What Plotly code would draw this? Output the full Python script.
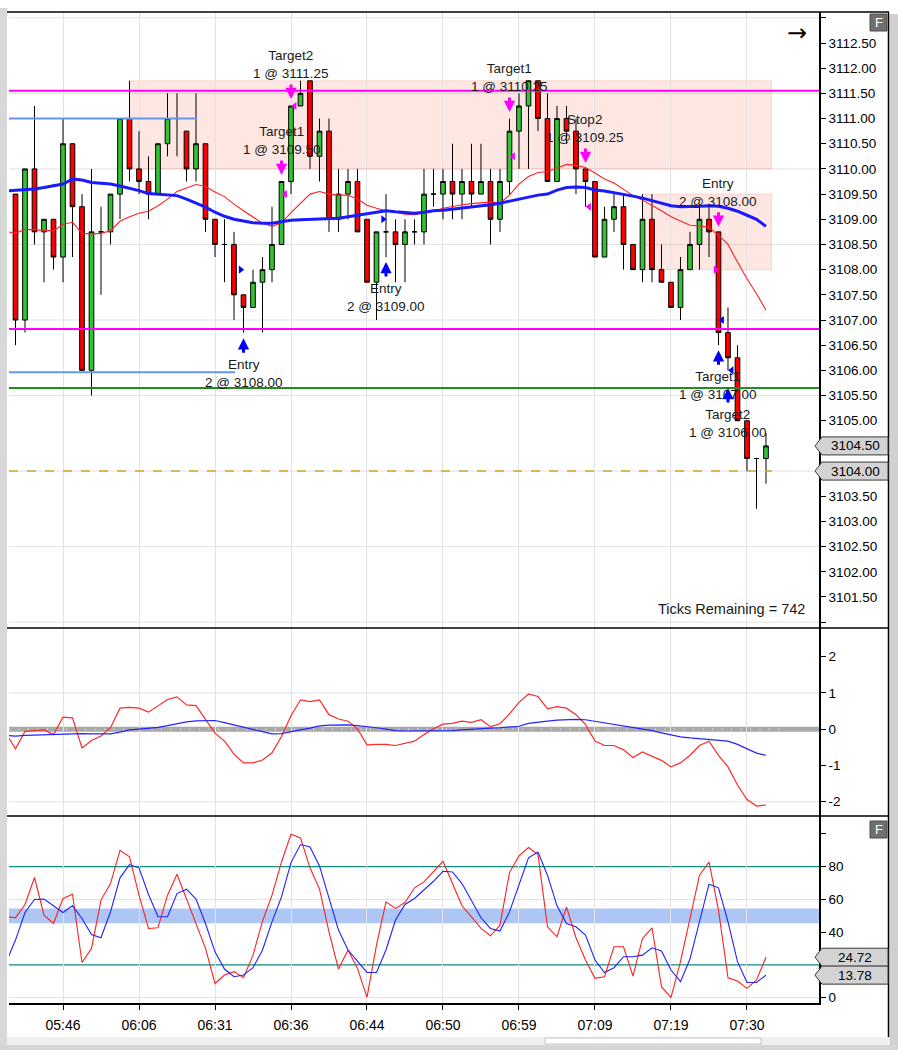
import plotly.graph_objects as go

# ---- tick chart data: 80 visible bars (index 0 = first bar on screen)
bars = list(range(80))
ind_x = list(range(-1, 80))  # indicator lines start one bar left of the first candle

opens = [3109.50, 3107.00, 3110.00, 3108.75, 3109.00, 3108.25, 3110.50, 3109.25, 3106.00, 3108.75,
         3108.75, 3109.50, 3111.00, 3110.00, 3109.75, 3109.50, 3110.50, 3111.00, 3110.75, 3110.00,
         3110.50, 3109.00, 3108.50, 3108.50, 3107.50, 3107.25, 3107.75, 3108.00, 3108.50, 3109.75,
         3111.25, 3111.75, 3110.25, 3110.75, 3109.00, 3109.50, 3109.75, 3109.00, 3107.75, 3108.75,
         3108.75, 3108.50, 3108.75, 3108.75, 3109.50, 3109.50, 3109.75, 3109.50, 3109.75, 3109.50,
         3109.75, 3109.00, 3109.75, 3110.75, 3111.25, 3111.75, 3111.00, 3109.75, 3111.00, 3110.75,
         3110.00, 3109.75, 3108.25, 3109.00, 3109.25, 3108.50, 3108.00, 3109.00, 3108.00, 3107.75,
         3107.25, 3108.00, 3108.50, 3109.00, 3108.75, 3106.75, 3106.25, 3105.00, 3104.25, 3104.25]
highs = [3109.50, 3110.00, 3111.25, 3109.00, 3109.00, 3111.00, 3110.50, 3109.50, 3110.00, 3109.25,
         3109.50, 3111.00, 3111.75, 3110.75, 3110.25, 3110.50, 3111.50, 3111.50, 3110.75, 3111.50,
         3110.50, 3109.00, 3109.00, 3108.75, 3107.50, 3108.00, 3108.25, 3109.25, 3109.75, 3111.25,
         3111.75, 3111.75, 3111.00, 3111.00, 3110.00, 3110.00, 3110.00, 3109.00, 3108.75, 3109.50,
         3109.00, 3109.00, 3109.00, 3110.00, 3110.00, 3110.00, 3110.50, 3110.00, 3110.50, 3110.50,
         3110.00, 3110.00, 3111.00, 3111.50, 3111.75, 3111.75, 3111.50, 3111.25, 3111.25, 3111.00,
         3110.00, 3109.75, 3109.25, 3109.50, 3109.50, 3108.50, 3109.50, 3109.50, 3108.50, 3107.75,
         3108.25, 3108.75, 3109.25, 3109.25, 3108.75, 3107.25, 3106.50, 3105.00, 3104.25, 3104.75]
lows = [3106.50, 3106.75, 3108.50, 3107.75, 3108.00, 3107.75, 3108.25, 3106.00, 3105.50, 3107.50,
        3108.50, 3109.00, 3109.75, 3109.50, 3109.00, 3109.50, 3110.25, 3110.25, 3109.75, 3109.75,
        3108.75, 3108.25, 3107.75, 3107.00, 3106.75, 3107.25, 3106.75, 3107.75, 3108.50, 3109.50,
        3111.25, 3110.00, 3109.75, 3108.75, 3108.75, 3109.00, 3108.75, 3107.75, 3107.00, 3108.25,
        3107.75, 3107.75, 3108.50, 3108.50, 3109.25, 3109.00, 3109.00, 3109.00, 3109.25, 3109.50,
        3108.50, 3108.75, 3109.50, 3110.00, 3110.00, 3110.75, 3109.75, 3109.75, 3110.50, 3109.50,
        3109.25, 3108.25, 3108.25, 3108.75, 3108.00, 3108.00, 3107.75, 3107.75, 3107.75, 3107.25,
        3107.00, 3108.00, 3108.00, 3108.25, 3106.50, 3106.00, 3105.00, 3104.00, 3103.25, 3103.75]
closes = [3107.00, 3110.00, 3108.75, 3109.00, 3108.25, 3110.50, 3109.25, 3106.00, 3108.75, 3108.75,
          3109.50, 3111.00, 3110.00, 3109.75, 3109.50, 3110.50, 3111.00, 3111.00, 3110.00, 3110.50,
          3109.00, 3108.50, 3108.50, 3107.50, 3107.25, 3107.75, 3108.00, 3108.50, 3109.75, 3111.25,
          3111.50, 3110.25, 3110.75, 3109.00, 3109.50, 3109.75, 3108.75, 3107.75, 3108.75, 3108.75,
          3108.50, 3108.75, 3108.75, 3109.50, 3109.50, 3109.75, 3109.50, 3109.75, 3109.50, 3109.75,
          3109.00, 3109.75, 3110.75, 3111.25, 3111.75, 3111.00, 3109.75, 3111.00, 3110.75, 3110.00,
          3109.75, 3108.25, 3109.00, 3109.25, 3108.50, 3108.00, 3109.00, 3108.00, 3107.75, 3107.25,
          3108.00, 3108.50, 3109.00, 3108.75, 3106.75, 3106.25, 3105.00, 3104.25, 3104.25, 3104.50]

# slow (blue) and fast (red) moving averages on price, bars -1..79
slow_ma = [3109.56, 3109.57, 3109.58, 3109.60, 3109.63, 3109.66, 3109.70, 3109.80, 3109.78, 3109.73,
           3109.72, 3109.70, 3109.66, 3109.62, 3109.57, 3109.51, 3109.50, 3109.48, 3109.47, 3109.40,
           3109.32, 3109.24, 3109.14, 3109.06, 3109.00, 3108.96, 3108.93, 3108.92, 3108.92, 3108.95,
           3108.98, 3108.99, 3109.00, 3109.00, 3109.01, 3109.02, 3109.05, 3109.08, 3109.12, 3109.15,
           3109.17, 3109.15, 3109.13, 3109.12, 3109.14, 3109.17, 3109.18, 3109.20, 3109.22, 3109.25,
           3109.27, 3109.29, 3109.32, 3109.36, 3109.40, 3109.45, 3109.48, 3109.50, 3109.58, 3109.63,
           3109.64, 3109.63, 3109.58, 3109.56, 3109.53, 3109.50, 3109.46, 3109.42, 3109.37, 3109.32,
           3109.27, 3109.25, 3109.25, 3109.26, 3109.27, 3109.26, 3109.22, 3109.16, 3109.08, 3109.00,
           3108.86]
fast_ma = [3108.76, 3108.72, 3108.80, 3108.79, 3108.78, 3108.77, 3108.90, 3108.94, 3108.72, 3108.71,
           3108.72, 3108.77, 3108.96, 3109.05, 3109.12, 3109.16, 3109.27, 3109.40, 3109.55, 3109.62,
           3109.69, 3109.65, 3109.54, 3109.45, 3109.30, 3109.17, 3109.04, 3108.92, 3108.86, 3108.93,
           3109.13, 3109.32, 3109.50, 3109.55, 3109.50, 3109.48, 3109.48, 3109.40, 3109.28, 3109.22,
           3109.17, 3109.14, 3109.10, 3109.09, 3109.12, 3109.16, 3109.22, 3109.26, 3109.29, 3109.31,
           3109.33, 3109.34, 3109.32, 3109.48, 3109.70, 3109.85, 3109.93, 3109.95, 3110.02, 3110.09,
           3110.07, 3110.03, 3109.92, 3109.80, 3109.72, 3109.60, 3109.47, 3109.38, 3109.28, 3109.17,
           3109.05, 3108.97, 3108.88, 3108.87, 3108.84, 3108.68, 3108.50, 3108.15, 3107.82, 3107.52,
           3107.20]

# oscillator panel (red fast line, blue signal), bars -1..79
osc_fast = [-0.12, -0.54, -0.06, -0.05, -0.02, -0.15, 0.33, 0.31, -0.52, -0.31,
            -0.19, 0.04, 0.58, 0.60, 0.58, 0.47, 0.65, 0.82, 0.89, 0.67,
            0.65, 0.27, -0.11, -0.33, -0.69, -0.93, -0.93, -0.85, -0.65, -0.20,
            0.37, 0.81, 0.76, 0.81, 0.40, 0.28, 0.22, 0.01, -0.43, -0.42,
            -0.42, -0.45, -0.38, -0.33, -0.15, 0.01, 0.14, 0.16, 0.22, 0.19,
            0.26, 0.07, 0.15, 0.42, 0.74, 0.97, 0.90, 0.56, 0.62, 0.58,
            0.40, 0.13, -0.33, -0.45, -0.45, -0.57, -0.78, -0.63, -0.75, -0.86,
            -1.04, -0.93, -0.72, -0.45, -0.33, -0.72, -1.04, -1.54, -1.94, -2.12,
            -2.09]
osc_signal = [-0.17, -0.19, -0.17, -0.16, -0.16, -0.15, -0.14, -0.12, -0.12, -0.13,
              -0.13, -0.13, -0.08, -0.02, 0.00, 0.02, 0.05, 0.10, 0.16, 0.20,
              0.23, 0.24, 0.24, 0.18, 0.12, 0.05, -0.02, -0.08, -0.13, -0.12,
              -0.08, -0.02, 0.03, 0.09, 0.11, 0.12, 0.12, 0.10, 0.08, 0.04,
              0.00, -0.04, -0.05, -0.05, -0.06, -0.06, -0.05, -0.04, -0.02, 0.00,
              0.03, 0.03, 0.04, 0.05, 0.08, 0.16, 0.20, 0.22, 0.25, 0.27,
              0.27, 0.26, 0.22, 0.18, 0.13, 0.10, 0.06, 0.00, -0.04, -0.10,
              -0.16, -0.21, -0.24, -0.26, -0.28, -0.31, -0.33, -0.42, -0.55, -0.66,
              -0.72]

# stochastics (red %K, blue %D), bars -1..79
stoch_k = [49.6, 48.8, 56.9, 73.4, 50.4, 45.3, 60.6, 63.2, 21.5, 30.1,
           59.6, 69.7, 90.0, 86.0, 62.6, 42.3, 42.7, 62.6, 75.4, 60.0,
           44.3, 30.1, 8.7, 13.8, 15.9, 12.2, 26.0, 46.7, 62.6, 82.9,
           99.8, 97.6, 79.3, 66.3, 40.2, 17.5, 29.1, 17.9, 0.2, 32.1,
           58.5, 54.5, 58.1, 67.1, 70.7, 77.2, 83.3, 69.7, 56.1, 49.4,
           42.3, 37.8, 44.3, 76.4, 86.6, 91.7, 87.4, 43.3, 37.2, 55.5,
           36.6, 23.0, 11.8, 12.8, 31.1, 31.1, 13.2, 36.2, 42.7, 6.7,
           0.0, 22.0, 48.0, 74.8, 82.9, 53.5, 12.2, 10.2, 5.7, 10.8,
           24.72]
stoch_d = [21.5, 35.2, 52.0, 60.0, 60.2, 56.1, 52.0, 56.1, 48.4, 38.6,
           36.6, 52.4, 73.2, 81.3, 79.3, 63.0, 49.4, 49.4, 63.6, 66.3,
           60.2, 45.3, 28.0, 17.5, 12.8, 13.8, 18.3, 29.1, 46.3, 61.6,
           82.5, 93.5, 92.1, 80.5, 61.6, 41.3, 29.1, 22.0, 15.4, 15.4,
           29.1, 47.4, 56.9, 60.6, 65.7, 71.1, 77.2, 76.8, 69.7, 58.9,
           48.8, 42.3, 40.7, 52.4, 68.7, 85.4, 89.0, 74.8, 56.1, 45.3,
           43.3, 38.2, 23.0, 15.4, 18.3, 25.0, 25.0, 26.0, 30.5, 28.5,
           16.9, 9.8, 23.6, 46.3, 69.3, 67.1, 46.3, 22.0, 9.3, 9.3,
           13.78]

time_tick_bars = [5, 13, 21, 29, 37, 45, 53, 61, 69, 77]
time_tick_text = ["05:46", "06:06", "06:31", "06:36", "06:44", "06:50", "06:59", "07:09", "07:19", "07:30"]

# executions: bar, arrow tip price, direction, label
exec_bar = [29, 28, 52, 60, 74, 24, 39, 74, 75]
exec_tip = [3111.39, 3109.88, 3111.13, 3110.12, 3108.85, 3106.64, 3108.15, 3106.40, 3105.65]
exec_dir = ["down", "down", "down", "down", "down", "up", "up", "up", "up"]
exec_text = ["Target2<br>1 @ 3111.25", "Target1<br>1 @ 3109.50", "Target1<br>1 @ 3110.25",
             "Stop2<br>1 @ 3109.25", "Entry<br>2 @ 3108.00", "Entry<br>2 @ 3108.00",
             "Entry<br>2 @ 3109.00", "Target1<br>1 @ 3107.00", "Target2<br>1 @ 3106.00"]
# fill markers (small triangles at the fill price)
fill_bar = [29, 28, 52, 60, 74, 24, 39, 74, 75]
fill_price = [3111.25, 3109.50, 3110.25, 3109.25, 3108.00, 3108.00, 3109.00, 3107.00, 3106.00]
fill_kind = ["sell_exit", "sell_exit", "sell_exit", "sell_exit", "sell_entry",
             "buy_entry", "buy_entry", "buy_exit", "buy_exit"]

# drawn levels
magenta_levels = [3111.55, 3106.82]
green_level = 3105.65
blue_segments = [(3111.00, 19.1), (3105.96, 23.1)]  # (price, end bar)
order_level = 3104.00
zones = [(12.0, 3110.00, 3111.75), (66.0, 3108.00, 3109.50)]  # (start bar, low, high)
zone_end = 79.6
band_lo, band_hi = 45.5, 54.5
stoch_levels = [20, 80]

price_ticks = [3101.0 + 0.5 * k for k in range(25)]
price_grid = [3101.0 + 1.5 * k for k in range(9)]
# edge ticks carry no label; the two tagged prices are shown in their tags instead
hidden_price_labels = {3101.0, 3113.0, 3104.0, 3104.5}
price_text = ["" if v in hidden_price_labels else "%.2f" % v for v in price_ticks]

# ---- geometry
W, H = 898, 1050
ML, MR, MT, MB = 9, 79, 12, 47
PW, PH = W - ML - MR, H - MT - MB


def px(x):
    return (x - ML) / PW


def py(y):
    return (H - MB - y) / PH


FONT = "Liberation Sans, Arial, sans-serif"
GREEN = "#33c433"
RED = "#ff0000"
MAGENTA = "#ff00ff"
BLUE = "#0000ff"
GRID = "#e2e2e2"

x_range = [-0.684, 84.58]

fig = go.Figure()

fig.add_trace(go.Candlestick(
    x=bars, open=opens, high=highs, low=lows, close=closes,
    increasing=dict(fillcolor=GREEN, line=dict(color="black", width=1)),
    decreasing=dict(fillcolor=RED, line=dict(color="black", width=1)),
    whiskerwidth=0, xaxis="x", yaxis="y", hoverinfo="skip"))
fig.add_trace(go.Scatter(x=ind_x, y=fast_ma, mode="lines", line=dict(color="#ff2020", width=1.1),
                         xaxis="x", yaxis="y", hoverinfo="skip"))
fig.add_trace(go.Scatter(x=ind_x, y=slow_ma, mode="lines", line=dict(color="#1a1aff", width=3),
                         xaxis="x", yaxis="y", hoverinfo="skip"))

# fill triangles
tri_style = {
    "sell_exit": ("triangle-left", MAGENTA, 0.38),
    "sell_entry": ("triangle-right", MAGENTA, -0.3),
    "buy_entry": ("triangle-right", BLUE, -0.3),
    "buy_exit": ("triangle-left", BLUE, 0.38),
}
for b, p, k in zip(fill_bar, fill_price, fill_kind):
    sym, col, off = tri_style[k]
    fig.add_trace(go.Scatter(x=[b + off], y=[p], mode="markers",
                             marker=dict(symbol=sym, size=7, color=col, line=dict(width=0)),
                             xaxis="x", yaxis="y", hoverinfo="skip"))

fig.add_trace(go.Scatter(x=ind_x, y=osc_fast, mode="lines", line=dict(color="#ff2a2a", width=1.2),
                         xaxis="x2", yaxis="y2", hoverinfo="skip"))
fig.add_trace(go.Scatter(x=ind_x, y=osc_signal, mode="lines", line=dict(color="#2424ff", width=1.2),
                         xaxis="x2", yaxis="y2", hoverinfo="skip"))
fig.add_trace(go.Scatter(x=ind_x, y=stoch_k, mode="lines", line=dict(color="#ff2020", width=1.1),
                         xaxis="x3", yaxis="y3", hoverinfo="skip"))
fig.add_trace(go.Scatter(x=ind_x, y=stoch_d, mode="lines", line=dict(color="#2020ff", width=1.1),
                         xaxis="x3", yaxis="y3", hoverinfo="skip"))

shapes = []
# horizontal grid lines
for g in price_grid:
    shapes.append(dict(type="line", xref="x domain", yref="y", x0=0, x1=1, y0=g, y1=g,
                       line=dict(color=GRID, width=1), layer="below"))
for g in [-2, 1]:
    shapes.append(dict(type="line", xref="x2 domain", yref="y2", x0=0, x1=1, y0=g, y1=g,
                       line=dict(color=GRID, width=1), layer="below"))
for g in [0, 60]:
    shapes.append(dict(type="line", xref="x3 domain", yref="y3", x0=0, x1=1, y0=g, y1=g,
                       line=dict(color=GRID, width=1), layer="below"))
# zones
for start, lo, hi in zones:
    shapes.append(dict(type="rect", xref="x", yref="y", x0=start, x1=zone_end, y0=lo, y1=hi,
                       fillcolor="rgba(250,128,114,0.2)", line=dict(color="rgba(250,128,114,0.25)", width=1),
                       layer="below"))
# level lines
for lv in magenta_levels:
    shapes.append(dict(type="line", xref="x domain", yref="y", x0=0, x1=1, y0=lv, y1=lv,
                       line=dict(color=MAGENTA, width=2)))
shapes.append(dict(type="line", xref="x domain", yref="y", x0=0, x1=1, y0=green_level, y1=green_level,
                   line=dict(color="#228b22", width=2)))
for lv, end in blue_segments:
    shapes.append(dict(type="line", xref="x", yref="y", x0=x_range[0], x1=end, y0=lv, y1=lv,
                       line=dict(color="#6495ed", width=2)))
shapes.append(dict(type="line", xref="x", yref="y", x0=x_range[0], x1=zone_end, y0=order_level, y1=order_level,
                   line=dict(color="#e0a020", width=1.5, dash="dash")))
# oscillator zero line
shapes.append(dict(type="line", xref="x2 domain", yref="y2", x0=0, x1=1, y0=0, y1=0,
                   line=dict(color="#a9a9a9", width=5), layer="below"))
shapes.append(dict(type="line", xref="x2 domain", yref="y2", x0=0, x1=0.96, y0=0, y1=0,
                   line=dict(color="white", width=1, dash="1px,8.5px"), layer="below"))
# stochastic band and levels
shapes.append(dict(type="rect", xref="x3 domain", yref="y3", x0=0, x1=1, y0=band_lo, y1=band_hi,
                   fillcolor="#adc6f3", line=dict(width=0), layer="below"))
for lv in stoch_levels:
    shapes.append(dict(type="line", xref="x3 domain", yref="y3", x0=0, x1=1, y0=lv, y1=lv,
                       line=dict(color="#108a84", width=1.2), layer="below"))

# window chrome
shapes += [
    dict(type="rect", xref="paper", yref="paper", x0=px(0), x1=px(7), y0=py(1046), y1=py(8),
         fillcolor="#d8d8d8", line=dict(width=0)),
    dict(type="rect", xref="paper", yref="paper", x0=px(889.5), x1=px(898), y0=py(1050), y1=py(14),
         fillcolor="#d0d0d0", line=dict(width=0)),
    dict(type="rect", xref="paper", yref="paper", x0=px(0), x1=px(898), y0=py(1050), y1=py(1045),
         fillcolor="#d6d6d6", line=dict(width=0)),
    dict(type="rect", xref="paper", yref="paper", x0=px(7), x1=px(888.5), y0=py(1045), y1=py(1037),
         fillcolor="#efefef", line=dict(width=0)),
    dict(type="rect", xref="paper", yref="paper", x0=px(545), x1=px(761), y0=py(1044), y1=py(1038),
         fillcolor="white", line=dict(color="#c4c4c4", width=1)),
    dict(type="line", xref="paper", yref="paper", x0=px(7), x1=px(889), y0=py(12), y1=py(12),
         line=dict(color="black", width=1.5)),
    dict(type="line", xref="paper", yref="paper", x0=px(888.5), x1=px(888.5), y0=py(12), y1=py(1037),
         line=dict(color="black", width=1.5)),
    dict(type="line", xref="paper", yref="paper", x0=px(7), x1=px(889), y0=py(628), y1=py(628),
         line=dict(color="black", width=1.5)),
    dict(type="line", xref="paper", yref="paper", x0=px(7), x1=px(889), y0=py(816), y1=py(816),
         line=dict(color="black", width=1.5)),
]
# F buttons
for top in (14, 821):
    shapes.append(dict(type="rect", xref="paper", yref="paper", x0=px(870), x1=px(887),
                       y0=py(top + 17), y1=py(top), fillcolor="#707070", line=dict(color="#4a4a4a", width=1)))


def tag_path(yv, half):
    xt, xl, xr = px(815), px(822), px(888)
    return (f"M {xt},{yv} L {xl},{yv + half} L {xr},{yv + half} "
            f"L {xr},{yv - half} L {xl},{yv - half} Z")


annotations = []
# value tags on the right axis
tags = [("y", closes[-1], 0.179), ("y", order_level, 0.179),
        ("y3", stoch_k[-1], 5.5), ("y3", stoch_d[-1], 5.5)]
for yref, val, half in tags:
    shapes.append(dict(type="path", xref="paper", yref=yref, path=tag_path(val, half),
                       fillcolor="#d3d3d3", line=dict(color="#3a3a3a", width=1)))
    annotations.append(dict(xref="paper", yref=yref, x=px(855), y=val, text="%.2f" % val,
                            xanchor="center", yanchor="middle", showarrow=False,
                            font=dict(size=13.5, color="black", family=FONT)))

# execution arrows and labels
for b, tip, d, txt in zip(exec_bar, exec_tip, exec_dir, exec_text):
    col = MAGENTA if d == "down" else BLUE
    annotations.append(dict(xref="x", yref="y", x=b, y=tip, text="", showarrow=True,
                            ax=0, ay=-16 if d == "down" else 16, arrowhead=2, arrowsize=0.75,
                            arrowwidth=3, arrowcolor=col, standoff=0))
    annotations.append(dict(xref="x", yref="y", x=b, y=tip, text=txt, showarrow=False,
                            xanchor="center", yanchor="bottom" if d == "down" else "top",
                            yshift=16 if d == "down" else -17,
                            font=dict(size=13.5, color="#1a1a1a", family=FONT)))

annotations += [
    dict(xref="paper", yref="paper", x=px(807), y=py(609), text="Ticks Remaining = 742",
         xanchor="right", yanchor="middle", showarrow=False,
         font=dict(size=14.5, color="#1a1a1a", family=FONT)),
    dict(xref="paper", yref="paper", x=px(797), y=py(33), text="→", showarrow=False,
         xanchor="center", yanchor="middle",
         font=dict(size=24, color="black", family="DejaVu Sans")),
    dict(xref="paper", yref="paper", x=px(878.5), y=py(22.5), text="F", showarrow=False,
         xanchor="center", yanchor="middle",
         font=dict(size=13, color="white", family=FONT)),
    dict(xref="paper", yref="paper", x=px(878.5), y=py(829.5), text="F", showarrow=False,
         xanchor="center", yanchor="middle",
         font=dict(size=13, color="white", family=FONT)),
]

xcommon = dict(range=x_range, tickvals=time_tick_bars, ticktext=time_tick_text,
               showgrid=True, gridcolor=GRID, gridwidth=1, zeroline=False)
ycommon = dict(side="right", showgrid=False, zeroline=False, ticks="outside", ticklen=5,
               tickcolor="black", showline=True, linecolor="black", linewidth=1.5,
               tickfont=dict(size=13.5, color="black", family=FONT), ticklabelstandoff=0)

fig.update_layout(
    width=W, height=H,
    margin=dict(l=ML, r=MR, t=MT, b=MB),
    paper_bgcolor="white", plot_bgcolor="white",
    showlegend=False, hovermode=False,
    font=dict(family=FONT, size=13.5, color="black"),
    boxgap=0.3,
    xaxis=dict(**xcommon, anchor="y", showticklabels=False, ticks="", rangeslider=dict(visible=False)),
    xaxis2=dict(**xcommon, anchor="y2", matches="x", showticklabels=False, ticks=""),
    xaxis3=dict(**xcommon, anchor="y3", matches="x", showticklabels=True, ticks="outside",
                ticklen=5, tickcolor="black", showline=True, linecolor="black", linewidth=1.5,
                tickfont=dict(size=14, color="black", family=FONT), ticklabelstandoff=3),
    yaxis=dict(**ycommon, domain=[py(628), 1.0], anchor="x", range=[3100.884, 3113.116],
               tickvals=price_ticks, ticktext=price_text),
    yaxis2=dict(**ycommon, domain=[py(816), py(628)], anchor="x2", range=[-2.394, 2.79],
                tickvals=[-2, -1, 0, 1, 2], ticktext=["-2", "-1", "0", "1", "2"]),
    yaxis3=dict(**ycommon, domain=[0.0, py(816)], anchor="x3", range=[-3.24, 110.96],
                tickvals=[0, 20, 40, 60, 80, 100], ticktext=["0", "", "40", "60", "80", ""]),
    shapes=shapes,
    annotations=annotations,
)

fig.write_html("out.html", config={"displayModeBar": False},
               post_script="document.body.style.margin='0px';")
